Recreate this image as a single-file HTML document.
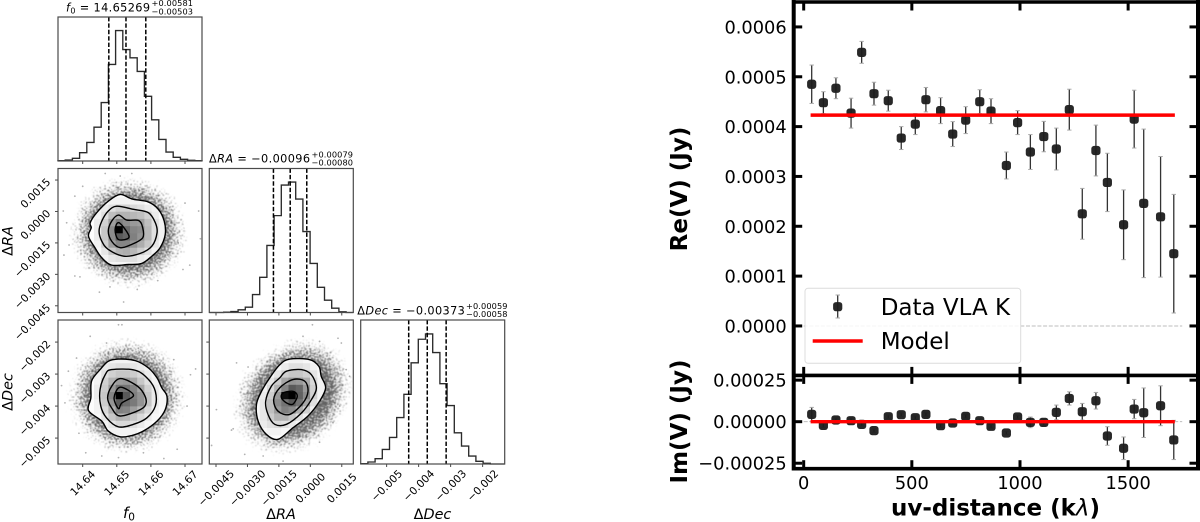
<!DOCTYPE html>
<html lang="en">
<head>
<meta charset="utf-8">
<title>Corner plot and visibility fit</title>
<style>
html,body{margin:0;padding:0;background:#fff;width:1200px;height:522px;overflow:hidden}
svg{display:block;filter:blur(.35px)}
text{font-family:"DejaVu Sans","Liberation Sans",sans-serif;fill:#000}
</style>
</head>
<body>
<svg id="fig" xmlns="http://www.w3.org/2000/svg" width="1200" height="522" viewBox="0 0 1200 522">
  <defs>
    <filter id="speckle" x="-20%" y="-20%" width="140%" height="140%" color-interpolation-filters="sRGB">
      <feTurbulence type="fractalNoise" baseFrequency="0.62" numOctaves="1" seed="7" result="n"/>
      <feColorMatrix in="n" type="matrix" values="0 0 0 0 0  0 0 0 0 0  0 0 0 0 0  1 0 0 0 0" result="na"/>
      <feComposite in="na" in2="SourceGraphic" operator="arithmetic" k1="0" k2="5" k3="3" k4="-4.55" result="thin"/>
      <feColorMatrix in="thin" type="matrix" values="0 0 0 0 0.2  0 0 0 0 0.2  0 0 0 0 0.2  0 0 0 0.8 0" result="d"/>
      <feGaussianBlur in="d" stdDeviation="0.4"/>
    </filter>
    <radialGradient id="halo">
      <stop offset="0" stop-color="#000" stop-opacity="1"/>
      <stop offset="0.55" stop-color="#000" stop-opacity="1"/>
      <stop offset="0.72" stop-color="#000" stop-opacity=".72"/>
      <stop offset="0.88" stop-color="#000" stop-opacity=".42"/>
      <stop offset="1" stop-color="#000" stop-opacity="0"/>
    </radialGradient>
  </defs>
  <g id="corner"></g>
  <g id="visibility"></g>

  <g>
    <text x="66" y="11.7" font-size="11.3" textLength="84" lengthAdjust="spacing"><tspan font-style="italic">f</tspan><tspan font-size="8" dy="2">0</tspan><tspan dy="-2"> = 14.65269</tspan></text>
    <text x="151.5" y="6" font-size="8.2" textLength="41.5">+0.00581</text>
    <text x="151.5" y="14.4" font-size="8.2" textLength="41.5">−0.00503</text>
    <text x="209" y="162.7" font-size="11.3" textLength="101" lengthAdjust="spacing">Δ<tspan font-style="italic">RA</tspan> = −0.00096</text>
    <text x="311.5" y="157.3" font-size="8.2" textLength="41.5">+0.00079</text>
    <text x="311.5" y="165.4" font-size="8.2" textLength="41.5">−0.00080</text>
    <text x="357.3" y="314.3" font-size="11.3" textLength="107.5" lengthAdjust="spacing">Δ<tspan font-style="italic">Dec</tspan> = −0.00373</text>
    <text x="466" y="309" font-size="8.2" textLength="41.5">+0.00059</text>
    <text x="466" y="317" font-size="8.2" textLength="41.5">−0.00058</text>
    <text x="129" y="518" font-size="15" text-anchor="middle"><tspan font-style="italic">f</tspan><tspan font-size="10.5" dy="2.5">0</tspan></text>
    <text x="281" y="519" font-size="14.4" text-anchor="middle">Δ<tspan font-style="italic">RA</tspan></text>
    <text x="432.5" y="519" font-size="14.4" text-anchor="middle">Δ<tspan font-style="italic">Dec</tspan></text>
    <text transform="translate(12.5 241) rotate(-90)" font-size="14.4" text-anchor="middle">Δ<tspan font-style="italic">RA</tspan></text>
    <text transform="translate(12.5 392) rotate(-90)" font-size="14.4" text-anchor="middle">Δ<tspan font-style="italic">Dec</tspan></text>
  </g>

  <g>
    <text transform="translate(687 189) rotate(-90)" font-size="23" font-weight="700" text-anchor="middle">Re(V) (Jy)</text>
    <text transform="translate(687 421.5) rotate(-90)" font-size="23" font-weight="700" text-anchor="middle">Im(V) (Jy)</text>
    <text x="995.5" y="515.5" font-size="23" font-weight="700" text-anchor="middle">uv-distance (k<tspan font-style="italic" font-weight="400">λ</tspan>)</text>
  </g>
</svg>

<script>
// ---------- corner plot data ----------
const f0Range = [14.63276, 14.67498];
const raRange = [-0.00482, 0.00205];
const decRange = [-0.00581, -0.00131];
const countMax = 868;

const f0Ticks = [14.64, 14.65, 14.66, 14.67];
const f0TickLabels = ["14.64", "14.65", "14.66", "14.67"];
const raTicks = [-0.0045, -0.003, -0.0015, 0, 0.0015];
const raTickLabels = ["−0.0045", "−0.0030", "−0.0015", "0.0000", "0.0015"];
const decTicks = [-0.005, -0.004, -0.003, -0.002];
const decTickLabels = ["−0.005", "−0.004", "−0.003", "−0.002"];

const f0Counts = [2, 6, 16, 50, 112, 204, 352, 582, 786, 672, 622, 540, 390, 248, 130, 54, 22, 10, 4, 2];
const raCounts = [0, 0, 2, 6, 16, 32, 108, 212, 404, 584, 768, 786, 684, 488, 296, 152, 74, 26, 4, 0];
const decCounts = [2, 12, 32, 88, 160, 280, 420, 610, 752, 784, 672, 484, 352, 188, 108, 48, 16, 4, 0, 0];

const f0Quantiles = [14.64766, 14.65269, 14.6585];
const raQuantiles = [-0.00176, -0.00096, -0.00017];
const decQuantiles = [-0.00431, -0.00373, -0.00314];

const contoursA = [
  [[14.6510,0.00081],[14.6544,0.00060],[14.6593,0.00045],[14.6622,0.00010],[14.6639,-0.00046],[14.6642,-0.00110],[14.6627,-0.00173],[14.6603,-0.00213],[14.6573,-0.00248],[14.6534,-0.00253],[14.6485,-0.00256],[14.6456,-0.00221],[14.6436,-0.00173],[14.6417,-0.00118],[14.6425,-0.00078],[14.6422,-0.00054],[14.6441,-0.00006],[14.6475,0.00049]],
  [[14.6500,0.00025],[14.6549,0.00010],[14.6593,-0.00006],[14.6613,-0.00054],[14.6618,-0.00102],[14.6603,-0.00165],[14.6569,-0.00200],[14.6520,-0.00213],[14.6475,-0.00181],[14.6456,-0.00142],[14.6448,-0.00094],[14.6456,-0.00046],[14.6475,0.00002]],
  [[14.6505,-0.00017],[14.6529,-0.00041],[14.6564,-0.00043],[14.6576,-0.00078],[14.6576,-0.00126],[14.6544,-0.00157],[14.6510,-0.00173],[14.6485,-0.00142],[14.6475,-0.00094],[14.6485,-0.00046]],
  [[14.6507,-0.00054],[14.6536,-0.00121],[14.6505,-0.00134],[14.6495,-0.00086]]
];
const contoursB = [
  [[14.6505,-0.00253],[14.6554,-0.00258],[14.6593,-0.00281],[14.6618,-0.00312],[14.6632,-0.00343],[14.6647,-0.00369],[14.6642,-0.00411],[14.6618,-0.00447],[14.6578,-0.00478],[14.6544,-0.00492],[14.6510,-0.00496],[14.6475,-0.00478],[14.6456,-0.00447],[14.6417,-0.00414],[14.6424,-0.00374],[14.6426,-0.00322],[14.6451,-0.00286],[14.6475,-0.00260]],
  [[14.6485,-0.00286],[14.6554,-0.00288],[14.6593,-0.00317],[14.6613,-0.00354],[14.6613,-0.00400],[14.6588,-0.00437],[14.6549,-0.00457],[14.6505,-0.00465],[14.6470,-0.00437],[14.6453,-0.00400],[14.6451,-0.00348],[14.6466,-0.00302]],
  [[14.6510,-0.00314],[14.6554,-0.00333],[14.6578,-0.00359],[14.6586,-0.00390],[14.6569,-0.00411],[14.6510,-0.00431],[14.6485,-0.00406],[14.6473,-0.00374],[14.6485,-0.00338]],
  [[14.6510,-0.00341],[14.6549,-0.00366],[14.6515,-0.00390],[14.6505,-0.00408],[14.6492,-0.00374]]
];
const contoursC = [
  [[-0.00098,-0.00253],[-0.00003,-0.00255],[0.00041,-0.00276],[0.00052,-0.00307],[0.00073,-0.00343],[0.00044,-0.00385],[-0.00011,-0.00431],[-0.00083,-0.00468],[-0.00154,-0.00504],[-0.00209,-0.00489],[-0.00249,-0.00447],[-0.00257,-0.00395],[-0.00233,-0.00354],[-0.00194,-0.00312],[-0.00146,-0.00271]],
  [[-0.00114,-0.00291],[-0.00043,-0.00286],[0.00005,-0.00302],[0.00029,-0.00343],[0.00005,-0.00380],[-0.00043,-0.00422],[-0.00114,-0.00457],[-0.00170,-0.00457],[-0.00202,-0.00426],[-0.00213,-0.00385],[-0.00186,-0.00338],[-0.00146,-0.00312]],
  [[-0.00083,-0.00317],[-0.00027,-0.00322],[-0.00011,-0.00354],[-0.00035,-0.00390],[-0.00098,-0.00426],[-0.00154,-0.00416],[-0.00175,-0.00380],[-0.00146,-0.00343]],
  [[-0.00130,-0.00359],[-0.00083,-0.00354],[-0.00062,-0.00368],[-0.00083,-0.00394],[-0.00114,-0.00390],[-0.00138,-0.00374]]
];

// density percent per hist2d bin; first column / row give the bin offset
const heatA = { col: 5, row: 4, cells: [
  [0,0,5,5,5,5,5,0,0,0],
  [5,8,12,18,18,15,12,8,5,0],
  [5,12,25,30,30,28,25,18,8,2],
  [8,18,38,50,45,40,38,25,12,5],
  [8,22,45,100,58,48,45,28,12,5],
  [8,22,45,65,60,50,42,28,12,5],
  [5,18,38,48,48,42,32,22,10,3],
  [3,10,22,30,32,28,20,12,5,2],
  [2,5,10,12,12,12,8,5,2,0],
  [0,2,3,3,3,3,2,0,0,0]
]};
const heatB = { col: 5, row: 5, cells: [
  [0,3,5,5,5,5,2,0,0,0],
  [3,8,10,12,12,10,8,5,0,0],
  [5,12,18,22,22,20,15,8,3,0],
  [5,18,30,38,40,35,22,12,5,0],
  [8,20,40,55,55,48,35,18,8,3],
  [8,22,48,100,65,50,42,22,8,3],
  [5,20,42,65,58,52,42,22,8,3],
  [5,15,32,50,48,38,28,15,5,2],
  [3,10,22,30,28,22,15,8,3,0],
  [0,5,10,15,15,12,8,3,0,0],
  [0,2,5,5,5,5,2,0,0,0]
]};
const heatC = { col: 6, row: 5, cells: [
  [0,0,0,0,2,5,5,3,0,0],
  [0,0,0,3,8,12,12,10,5,2],
  [0,0,3,10,18,22,22,18,10,3],
  [0,2,10,20,35,42,40,32,15,5],
  [2,5,15,30,48,65,60,40,18,5],
  [3,8,20,40,95,100,62,45,18,5],
  [3,10,25,45,55,65,55,35,12,3],
  [3,10,25,40,50,45,32,18,5,0],
  [3,10,20,30,30,22,12,5,0,0],
  [2,8,12,15,12,8,3,0,0,0],
  [0,3,5,5,3,2,0,0,0,0]
]};

const samplesA = [[14.6449,-0.00385],[14.6520,-0.00432],[14.6343,0.00002],[14.6353,-0.00054],[14.6377,0.00073],[14.6740,0.00002],[14.6745,-0.00130],[14.6714,-0.00256],[14.6694,-0.00277],[14.6345,-0.00208],[14.6392,-0.00312],[14.6377,-0.00308],[14.6466,0.00181],[14.6544,0.00181],[14.6510,0.00169],[14.6480,-0.00360],[14.6560,-0.00372],[14.6620,-0.00330],[14.6680,-0.00150],[14.6700,0.00040],[14.6400,0.00120],[14.6360,-0.00160]];
const samplesB = [[14.6505,-0.00146],[14.6515,-0.00146],[14.6422,-0.00182],[14.6382,-0.0025],[14.6338,-0.00336],[14.6358,-0.00291],[14.6348,-0.0039],[14.6389,-0.00485],[14.6409,-0.00546],[14.6505,-0.00561],[14.6638,-0.00564],[14.6731,-0.00284],[14.6716,-0.00302],[14.6706,-0.004],[14.6677,-0.00535],[14.6667,-0.00255],[14.647,-0.00203],[14.6563,-0.00219],[14.6456,-0.00556],[14.6578,-0.00546]];
const samplesC = [[0.0001,-0.00146],[-0.00035,-0.00182],[0.00132,-0.00188],[0.00148,-0.00203],[-0.00297,-0.00278],[-0.00352,-0.00265],[-0.00376,-0.00475],[-0.00368,-0.00471],[-0.00471,-0.00523],[-0.00313,-0.00551],[-0.00225,-0.00556],[-0.0013,-0.00572],[0.00187,-0.00307],[0.00171,-0.00286],[0.0014,-0.004],[0.00108,-0.00452],[0.00044,-0.00513],[-0.00098,-0.00234],[-0.00448,-0.00411],[0.00044,-0.00198]];

// centre x, centre y, radius x, radius y (data units), tilt in degrees
const cloudA = [14.6535, -0.0010, 0.0195, 0.0030, 0];
const cloudB = [14.6529, -0.00369, 0.0195, 0.00205, 0];
const cloudC = [-0.00083, -0.0037, 0.0035, 0.00185, -42];

// ---------- visibility data ----------
const uvDistance = [37,91,149,219,268,325,391,451,516,565,633,689,749,814,866,937,989,1048,1110,1168,1228,1288,1351,1404,1479,1528,1572,1650,1711];
const reValues = [0.000485,0.000448,0.000477,0.000427,0.000549,0.000466,0.000452,0.000377,0.000405,0.000454,0.000432,0.000385,0.000413,0.000450,0.000431,0.000322,0.000408,0.000349,0.000380,0.000355,0.000434,0.000225,0.000352,0.000288,0.000203,0.000415,0.000246,0.000219,0.000145];
const reErrors = [0.0000385,0.000022,0.000021,0.00003,0.000022,0.000023,0.000021,0.000023,0.000021,0.0000245,0.000026,0.000025,0.000027,0.000024,0.000025,0.000027,0.000024,0.000035,0.0000305,0.000042,0.000041,0.000051,0.000051,0.0000585,0.00007,0.000058,0.000149,0.000121,0.000119];
const imValues = [0.000044,-0.000022,0.00001,0.000006,-0.000016,-0.000054,0.00003,0.000042,0.000024,0.000044,-0.000024,-0.000008,0.000032,0.000006,-0.000028,-0.000068,0.000028,-0.000004,-0.000004,0.000056,0.00014,0.00006,0.000126,-0.000086,-0.00016,0.000076,0.000054,0.000096,-0.00011];
const imErrors = [0.000042,0.000012,0.000012,0.000015,0.00001,0.00001,0.00001,0.00001,0.00001,0.00001,0.00001,0.00001,0.00001,0.00001,0.00001,0.00001,0.00001,0.000032,0.00002,0.000044,0.00004,0.00005,0.00005,0.000056,0.000068,0.000058,0.000149,0.00012,0.000118];
const modelUv = [32, 1716];
const modelRe = [0.000423, 0.000423];
const modelIm = [0, 0];
const zeroUv = [0, 1750];
const uvTicks = [0, 500, 1000, 1500];
const uvTickLabels = ["0", "500", "1000", "1500"];
const reTicks = [0, 0.0001, 0.0002, 0.0003, 0.0004, 0.0005, 0.0006];
const reTickLabels = ["0.0000", "0.0001", "0.0002", "0.0003", "0.0004", "0.0005", "0.0006"];
const imTicks = [-0.00025, 0, 0.00025];
const imTickLabels = ["−0.00025", "0.00000", "0.00025"];
const legendLabels = ["Data VLA K", "Model"];

// ---------- helpers ----------
const NS = "http://www.w3.org/2000/svg";
function scale(domain, range) {
  return v => range[0] + (v - domain[0]) / (domain[1] - domain[0]) * (range[1] - range[0]);
}
function group(parent, name) {
  const g = document.createElementNS(NS, "g");
  
  
  parent.appendChild(g);
  return g;
}
function line(parent, name, x1, y1, x2, y2, stroke, width, dash) {
  const el = document.createElementNS(NS, "line");
  
  
  el.setAttribute("x1", x1); el.setAttribute("y1", y1);
  el.setAttribute("x2", x2); el.setAttribute("y2", y2);
  el.setAttribute("stroke", stroke); el.setAttribute("stroke-width", width);
  if (dash) el.setAttribute("stroke-dasharray", dash);
  parent.appendChild(el);
  return el;
}
function label(parent, name, x, y, txt, size, anchor, transform) {
  const el = document.createElementNS(NS, "text");
  
  
  el.setAttribute("x", x); el.setAttribute("y", y);
  el.setAttribute("font-size", size);
  el.setAttribute("text-anchor", anchor);
  if (transform) el.setAttribute("transform", transform);
  el.textContent = txt;
  parent.appendChild(el);
  return el;
}
function smoothClosed(pts) {
  const n = pts.length;
  let d = "M" + pts[0][0].toFixed(2) + " " + pts[0][1].toFixed(2);
  for (let i = 0; i < n; i++) {
    const p0 = pts[(i - 1 + n) % n], p1 = pts[i], p2 = pts[(i + 1) % n], p3 = pts[(i + 2) % n];
    const c1x = p1[0] + (p2[0] - p0[0]) / 6, c1y = p1[1] + (p2[1] - p0[1]) / 6;
    const c2x = p2[0] - (p3[0] - p1[0]) / 6, c2y = p2[1] - (p3[1] - p1[1]) / 6;
    d += "C" + c1x.toFixed(2) + " " + c1y.toFixed(2) + " " + c2x.toFixed(2) + " " + c2y.toFixed(2) + " " + p2[0].toFixed(2) + " " + p2[1].toFixed(2);
  }
  return d + "Z";
}

// ---------- corner plot ----------
const corner = document.getElementById("corner");
const defs = document.querySelector("#fig defs");
const colX = [[58, 202], [209.3, 353.3], [360.7, 504.7]];
const rowY = [[17, 161], [168.5, 312.5], [320, 464]];
const SPINE = "#4a4a4a";

function frame(parent, x, y) {
  const el = document.createElementNS(NS, "rect");
  
  
  el.setAttribute("x", x[0]); el.setAttribute("y", y[0]);
  el.setAttribute("width", x[1] - x[0]); el.setAttribute("height", y[1] - y[0]);
  el.setAttribute("fill", "none"); el.setAttribute("stroke", SPINE); el.setAttribute("stroke-width", "1.2");
  parent.appendChild(el);
}
function bottomTicks(parent, ticks, sx, yb) {
  ticks.forEach(t => {
    line(parent, 'x-tick', sx(t), yb, sx(t), yb + 3, SPINE, 1);
  });
}
function leftTicks(parent, ticks, sy, xl) {
  ticks.forEach(t => {
    line(parent, 'y-tick', xl, sy(t), xl - 3, sy(t), SPINE, 1);
  });
}
function xTickLabels(parent, ticks, labels, sx, cy) {
  ticks.forEach((t, i) => {
    label(parent, 'x-tick-label', sx(t), cy + 3.7, labels[i], 10.6, "middle", "rotate(-45 " + sx(t) + " " + cy + ")");
  });
}
function yTickLabels(parent, ticks, labels, sy) {
  ticks.forEach((t, i) => {
    label(parent, 'y-tick-label', 48.5, sy(t) + 3.7, labels[i], 10.6, "end", "rotate(-45 48.5 " + sy(t) + ")");
  });
}

function histogram(name, counts, quantiles, range, ticks, x, y) {
  const g = group(corner, name);
  const sx = scale(range, x);
  const sy = scale([0, countMax], [y[1], y[0]]);
  const bw = (range[1] - range[0]) / counts.length;
  let d = "M" + x[0] + " " + y[1];
  counts.forEach((c, i) => {
    d += "L" + sx(range[0] + i * bw).toFixed(2) + " " + sy(c).toFixed(2);
    d += "L" + sx(range[0] + (i + 1) * bw).toFixed(2) + " " + sy(c).toFixed(2);
  });
  d += "L" + x[1] + " " + y[1];
  const p = document.createElementNS(NS, "path");
  
  
  p.setAttribute("d", d);
  p.setAttribute("fill", "none");
  p.setAttribute("stroke", "#2b2b2b");
  p.setAttribute("stroke-width", "1.35");
  g.appendChild(p);
  quantiles.forEach(q => {
    line(g, 'quantile-line', sx(q), y[0], sx(q), y[1], "#000", 1.5, "4.4 2");
  });
  frame(g, x, y);
  bottomTicks(g, ticks, sx, y[1]);
}

function pairPanel(name, id, x, y, xRange, yRange, cloud, samples, heat, contours) {
  const g = group(corner, name);
  const sx = scale(xRange, x);
  const sy = scale(yRange, [y[1], y[0]]);

  const clip = document.createElementNS(NS, "clipPath");
  clip.setAttribute("id", "panel-" + id);
  const cr = document.createElementNS(NS, "rect");
  cr.setAttribute("x", x[0]); cr.setAttribute("y", y[0]);
  cr.setAttribute("width", x[1] - x[0]); cr.setAttribute("height", y[1] - y[0]);
  clip.appendChild(cr);
  defs.appendChild(clip);

  const scatter = group(g, 'sample-scatter');
  scatter.setAttribute("clip-path", "url(#panel-" + id + ")");
  const cx = sx(cloud[0]), cy = sy(cloud[1]);
  const halo = document.createElementNS(NS, "ellipse");
  
  
  halo.setAttribute("cx", cx); halo.setAttribute("cy", cy);
  halo.setAttribute("rx", Math.abs(sx(cloud[0] + cloud[2]) - cx));
  halo.setAttribute("ry", Math.abs(sy(cloud[1] + cloud[3]) - cy));
  halo.setAttribute("fill", "url(#halo)");
  halo.setAttribute("filter", "url(#speckle)");
  halo.setAttribute("transform", "rotate(" + cloud[4] + " " + cx + " " + cy + ")");
  scatter.appendChild(halo);
  samples.forEach(s => {
    const c = document.createElementNS(NS, "circle");
    
    
    c.setAttribute("cx", sx(s[0])); c.setAttribute("cy", sy(s[1]));
    c.setAttribute("r", "0.9");
    c.setAttribute("fill", "#000"); c.setAttribute("fill-opacity", "0.3");
    scatter.appendChild(c);
  });

  const pts = contours.map(c => c.map(p => [sx(p[0]), sy(p[1])]));
  const outerD = smoothClosed(pts[0]);

  const fill = document.createElementNS(NS, "path");
  
  
  fill.setAttribute("d", outerD);
  fill.setAttribute("fill", "#fcfcfc");
  g.appendChild(fill);

  const clip2 = document.createElementNS(NS, "clipPath");
  clip2.setAttribute("id", "outer-" + id);
  const cp = document.createElementNS(NS, "path");
  cp.setAttribute("d", outerD);
  clip2.appendChild(cp);
  defs.appendChild(clip2);

  const cells = group(g, 'density-heatmap');
  cells.setAttribute("clip-path", "url(#outer-" + id + ")");
  const dx = (xRange[1] - xRange[0]) / 20, dy = (yRange[1] - yRange[0]) / 20;
  heat.cells.forEach((row, r) => {
    row.forEach((v, c) => {
      if (!v) return;
      const x0 = sx(xRange[0] + (heat.col + c) * dx), x1 = sx(xRange[0] + (heat.col + c + 1) * dx);
      const y0 = sy(yRange[1] - (heat.row + r) * dy), y1 = sy(yRange[1] - (heat.row + r + 1) * dy);
      const gv = Math.round(255 * (1 - v / 100));
      const el = document.createElementNS(NS, "rect");
      
      
      el.setAttribute("x", x0); el.setAttribute("y", y0);
      el.setAttribute("width", x1 - x0 + 0.3); el.setAttribute("height", y1 - y0 + 0.3);
      el.setAttribute("fill", "rgb(" + gv + "," + gv + "," + gv + ")");
      cells.appendChild(el);
    });
  });

  pts.forEach(c => {
    const p = document.createElementNS(NS, "path");
    
    
    p.setAttribute("d", smoothClosed(c));
    p.setAttribute("fill", "none");
    p.setAttribute("stroke", "#000");
    p.setAttribute("stroke-width", "1.4");
    g.appendChild(p);
  });
  frame(g, x, y);
  return { g, sx, sy };
}

histogram('f0-histogram', f0Counts, f0Quantiles, f0Range, f0Ticks, colX[0], rowY[0]);
histogram('ra-histogram', raCounts, raQuantiles, raRange, raTicks, colX[1], rowY[1]);
histogram('dec-histogram', decCounts, decQuantiles, decRange, decTicks, colX[2], rowY[2]);

const panelA = pairPanel('f0-ra-panel', 'a', colX[0], rowY[1], f0Range, raRange, cloudA, samplesA, heatA, contoursA);
const panelB = pairPanel('f0-dec-panel', 'b', colX[0], rowY[2], f0Range, decRange, cloudB, samplesB, heatB, contoursB);
const panelC = pairPanel('ra-dec-panel', 'c', colX[1], rowY[2], raRange, decRange, cloudC, samplesC, heatC, contoursC);

bottomTicks(panelA.g, f0Ticks, panelA.sx, rowY[1][1]);
leftTicks(panelA.g, raTicks, panelA.sy, colX[0][0]);
yTickLabels(panelA.g, raTicks, raTickLabels, panelA.sy);
bottomTicks(panelB.g, f0Ticks, panelB.sx, rowY[2][1]);
leftTicks(panelB.g, decTicks, panelB.sy, colX[0][0]);
yTickLabels(panelB.g, decTicks, decTickLabels, panelB.sy);
xTickLabels(panelB.g, f0Ticks, f0TickLabels, panelB.sx, 483);
bottomTicks(panelC.g, raTicks, panelC.sx, rowY[2][1]);
leftTicks(panelC.g, decTicks, panelC.sy, colX[1][0]);
xTickLabels(panelC.g, raTicks, raTickLabels, panelC.sx, 488);
xTickLabels(corner, decTicks, decTickLabels, scale(decRange, colX[2]), 485.5);

// ---------- visibility plot ----------
const vis = document.getElementById("visibility");
const xUv = scale([-46.2, 1823], [793.7, 1198]);
const yRe = scale([-0.0000974, 0.00065], [374.5, 2]);
const yIm = scale([-0.000283, 0.000278], [468.7, 375.5]);

function marker(parent, cx, cy) {
  const m = document.createElementNS(NS, "rect");
  
  
  m.setAttribute("x", cx - 4.6); m.setAttribute("y", cy - 4.6);
  m.setAttribute("width", "9.2"); m.setAttribute("height", "9.2");
  m.setAttribute("rx", "2.8");
  m.setAttribute("fill", "#1c1c1c"); m.setAttribute("fill-opacity", "0.95");
  parent.appendChild(m);
}
function errorBars(parent, xs, ys, errs, sy) {
  xs.forEach((u, i) => {
    const px = xUv(u), top = sy(ys[i] + errs[i]), bot = sy(ys[i] - errs[i]);
    line(parent, 'error-bar', px, top, px, bot, "#333", 1.3);
    line(parent, 'error-cap-top', px - 2.2, top, px + 2.2, top, "#aaa", 1);
    line(parent, 'error-cap-bottom', px - 2.2, bot, px + 2.2, bot, "#aaa", 1);
    marker(parent, px, sy(ys[i]));
  });
}
function model(parent, ys, sy) {
  const p = document.createElementNS(NS, "polyline");
  
  
  p.setAttribute("points", modelUv.map((u, i) => xUv(u) + "," + sy(ys[i])).join(" "));
  p.setAttribute("fill", "none");
  p.setAttribute("stroke", "#ff0000");
  p.setAttribute("stroke-width", "3.4");
  parent.appendChild(p);
}

const reG = group(vis, 're-panel');
line(reG, 'zero-line', xUv(zeroUv[0]), yRe(0), xUv(zeroUv[1]), yRe(0), "#bdbdbd", 1, "4 1.7");
errorBars(reG, uvDistance, reValues, reErrors, yRe);
model(reG, modelRe, yRe);

const imG = group(vis, 'im-panel');
line(imG, 'zero-line', xUv(zeroUv[0]), yIm(0), xUv(zeroUv[1]), yIm(0), "#bdbdbd", 1, "4 1.7");
errorBars(imG, uvDistance, imValues, imErrors, yIm);
model(imG, modelIm, yIm);

// legend
const lg = group(vis, 'legend');
const box = document.createElementNS(NS, "rect");


box.setAttribute("x", "805"); box.setAttribute("y", "288.3");
box.setAttribute("width", "215.7"); box.setAttribute("height", "75");
box.setAttribute("rx", "3");
box.setAttribute("fill", "#fff"); box.setAttribute("fill-opacity", "0.85");
box.setAttribute("stroke", "#dcdcdc"); box.setAttribute("stroke-width", "1");
lg.appendChild(box);
line(lg, 'legend-error-bar', 837.7, 295, 837.7, 318, "#333", 1.3);
line(lg, 'legend-error-cap-top', 835.5, 295, 840, 295, "#aaa", 1);
line(lg, 'legend-error-cap-bottom', 835.5, 318, 840, 318, "#aaa", 1);
marker(lg, 837.7, 306.7);
line(lg, 'legend-model-line', 812.7, 341, 862.7, 341, "#ff0000", 3.4);
label(lg, 'legend-data-label', 880.7, 315, legendLabels[0], 23, "start");
label(lg, 'legend-model-label', 880.7, 349, legendLabels[1], 23, "start");

// axes
const axes = group(vis, 'visibility-axes');
const LEFT = 793.7, RIGHT = 1198, TOP = 2, MID = 375.4, BOTTOM = 468.7, TICK = 8.5;
uvTicks.forEach(t => {
  const px = xUv(t);
  line(axes, 'x-tick-re-top', px, TOP, px, TOP + TICK, "#000", 3);
  line(axes, 'x-tick-re-bottom', px, MID, px, MID - TICK, "#000", 3);
  line(axes, 'x-tick-im-top', px, MID, px, MID + TICK, "#000", 3);
  line(axes, 'x-tick-im-bottom', px, BOTTOM, px, BOTTOM - TICK, "#000", 3);
});
uvTicks.forEach((t, i) => {
  label(axes, 'x-tick-label', xUv(t), 489, uvTickLabels[i], 17.8, "middle");
});
reTicks.forEach((t, i) => {
  const py = yRe(t);
  line(axes, 're-y-tick-left', LEFT, py, LEFT + TICK, py, "#000", 3);
  line(axes, 're-y-tick-right', RIGHT, py, RIGHT - TICK, py, "#000", 3);
  label(axes, 're-y-tick-label', 786.7, py + 6.5, reTickLabels[i], 17.8, "end");
});
imTicks.forEach((t, i) => {
  const py = yIm(t);
  line(axes, 'im-y-tick-left', LEFT, py, LEFT + TICK, py, "#000", 3);
  line(axes, 'im-y-tick-right', RIGHT, py, RIGHT - TICK, py, "#000", 3);
  label(axes, 'im-y-tick-label', 786.7, py + 6.5, imTickLabels[i], 17.8, "end");
});
line(axes, 'left-spine', LEFT, 0, LEFT, 470.5, "#000", 4);
line(axes, 'right-spine', RIGHT, 0, RIGHT, 470.5, "#000", 4);
line(axes, 'top-spine', LEFT, TOP, RIGHT, TOP, "#000", 3.6);
line(axes, 'middle-spine', LEFT, MID, RIGHT, MID, "#000", 3.6);
line(axes, 'bottom-spine', LEFT, BOTTOM, RIGHT, BOTTOM, "#000", 3.6);
</script>
</body>
</html>
